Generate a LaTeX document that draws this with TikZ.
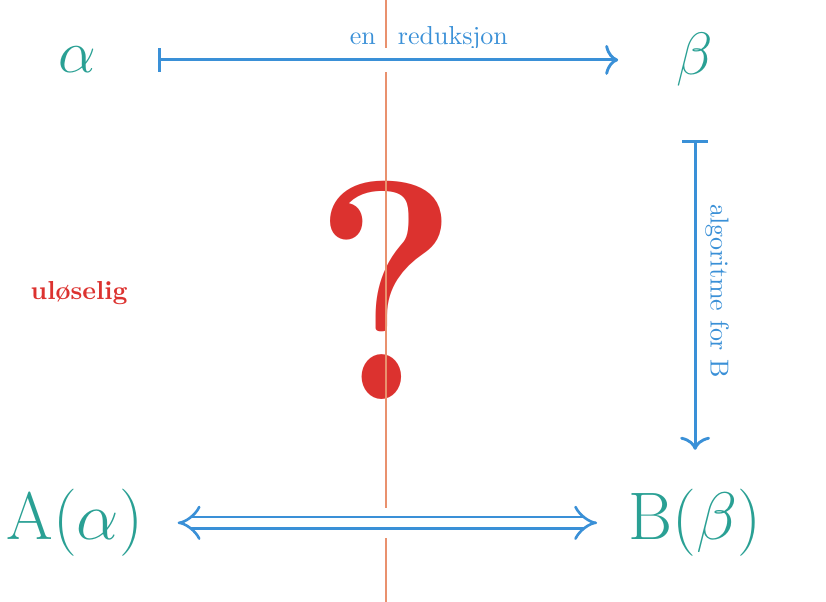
\documentclass[tikz,border=0pt]{standalone}
\usepackage{amsmath, amssymb}
\usepackage{tikz}
\usepackage{xcolor}
\usetikzlibrary{arrows.meta}
\definecolor{objcol}{RGB}{42,160,148}
\definecolor{mapcol}{RGB}{58,144,215}
\definecolor{redcol}{RGB}{220,50,47}
\definecolor{cutcol}{RGB}{233,145,110}

\begin{document}
\begin{tikzpicture}[
    obj/.style={text=objcol, font=\Huge, scale=0.925},
    bigobj/.style={text=objcol, font=\Huge, scale=1.04},
    lbl/.style={text=mapcol, font=\normalsize},
    maparrow/.style={draw=mapcol, line width=1.1pt, preaction={draw=white, line width=9pt, -}},
  ]
          \useasboundingbox (0,0) rectangle (11.17,-8.14);%
          \node [xscale=0.88, transform shape] (Q) at (5.22,-3.92) {\fontsize{120}{120}\selectfont\bfseries\color{redcol}?};%
          \node (U) at (1.07,-3.96) {\bfseries\color{redcol}uløselig};%
          \coordinate (T) at (5.22,0);%
          \coordinate (S) at (5.22,-8.14);%
          \draw [cutcol, line width=0.9pt] (T) to (S);%
          \node [obj, transform shape] (a) at (1.05,-0.81) {$\alpha$};%
          \node [obj, transform shape] (b) at (9.40,-0.81) {$\beta$};%
          \node [bigobj, transform shape] (Aa) at (1.01,-7.07) {A$(\alpha)$};%
          \node [bigobj, transform shape] (Bb) at (9.40,-7.07) {B$(\beta)$};%
          \node [lbl] (R) at (5.80,-0.51) {en\hspace{8.5pt}reduksjon};%
          \draw [maparrow, {Bar[width=9pt]}-{To[width=11.5pt,length=5pt]}, shorten <=30.8pt, shorten >=29.6pt] (a.center) to (b.center);%
          \draw [maparrow, {Bar[width=10pt]}-{To[width=11.5pt,length=5pt]}, shorten <=30.8pt, shorten >=28.1pt] (b.center) to node [lbl, sloped, above] {algoritme for B} (Bb.center);%
          \draw [draw=mapcol, line width=1pt, double=white, double distance=3.6pt, {Implies[scale=1.7]}-{Implies[scale=1.7]},
                 preaction={draw=white, double=white, line width=4pt, double distance=3.5pt, -},
                 shorten <=39.6pt, shorten >=37.7pt] (Aa.center) to (Bb.center);%
        \end{tikzpicture}
\end{document}
